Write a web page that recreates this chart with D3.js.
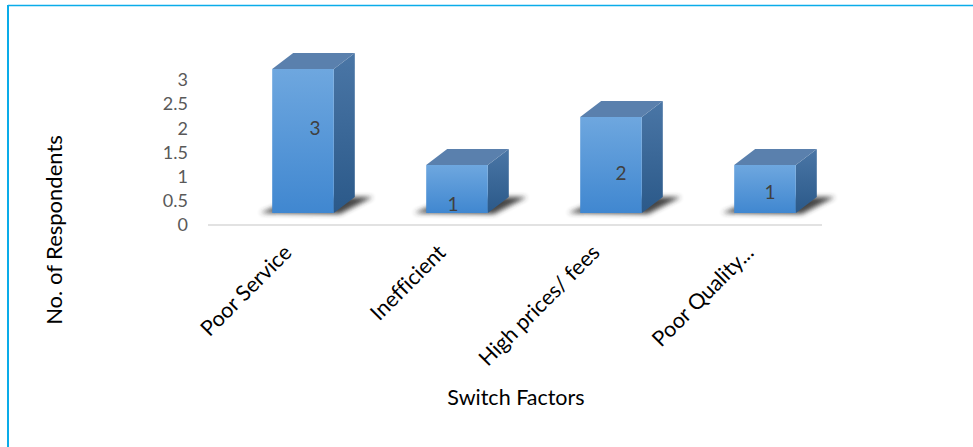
<!DOCTYPE html>
<html>
<head>
<meta charset="utf-8">
<script src="https://cdn.jsdelivr.net/npm/d3@7"></script>
<style>
  html, body { margin: 0; padding: 0; background: #fff; }
  svg { display: block; }
  text { font-family: Lato, "Liberation Sans", sans-serif; font-variant-ligatures: none; }
</style>
</head>
<body>
<svg id="chart" width="973" height="447"></svg>
<script>
// Switch factors reported by respondents
const categories = ["Poor Service", "Inefficient", "High prices/ fees", "Poor Quality..."];
const respondents = [3, 1, 2, 1];
const yTickValues = [0, 0.5, 1, 1.5, 2, 2.5, 3];
const xTitle = "Switch Factors";
const yTitle = "No. of Respondents";

// where each value label sits: height within the bar (in data units) and a sideways nudge
const labelHeight = [1.77, 0.17, 0.83, 0.42];
const labelNudge = [12, -4, 10, 5];

const W = 973, H = 447;
const svg = d3.select("#chart");
const defs = svg.append("defs");

// frame lines on the top and left edges
svg.append("line").attr("x1", 8).attr("x2", W).attr("y1", 5.5).attr("y2", 5.5)
  .attr("stroke", "#0aace9").attr("stroke-width", 1.6);
svg.append("line").attr("x1", 8).attr("x2", 8).attr("y1", 5).attr("y2", H)
  .attr("stroke", "#0aace9").attr("stroke-width", 2);

const x = d3.scaleBand().domain(categories).range([226, 842]);
const y = d3.scaleLinear().domain([0, 3]).range([213, 69]);      // front face of the bars
const yWall = d3.scaleLinear().domain([0, 3]).range([225, 80]);  // value axis on the wall

const faceW = x.bandwidth() * 0.4;
const depthX = 21, depthY = 16;

// gradients for the three visible faces
const gFront = defs.append("linearGradient").attr("id", "gFront")
  .attr("x1", 0).attr("y1", 0).attr("x2", 0).attr("y2", 1);
gFront.append("stop").attr("offset", "0%").attr("stop-color", "#6ea7df");
gFront.append("stop").attr("offset", "100%").attr("stop-color", "#4087d0");
const gSide = defs.append("linearGradient").attr("id", "gSide")
  .attr("x1", 0).attr("y1", 0).attr("x2", 0).attr("y2", 1);
gSide.append("stop").attr("offset", "0%").attr("stop-color", "#4a76a6");
gSide.append("stop").attr("offset", "100%").attr("stop-color", "#2b5989");

const blur = defs.append("filter").attr("id", "soft")
  .attr("x", "-30%").attr("y", "-100%").attr("width", "160%").attr("height", "300%");
blur.append("feGaussianBlur").attr("stdDeviation", 2.6);

// floor line
svg.append("line")
  .attr("x1", x.range()[0] - 18).attr("x2", x.range()[1] - 20)
  .attr("y1", yWall(0)).attr("y2", yWall(0))
  .attr("stroke", "#d9d9d9").attr("stroke-width", 1.5);

// value axis
const yAxis = d3.axisLeft(yWall).tickValues(yTickValues).tickSize(0).tickPadding(2)
  .tickFormat(d3.format("~g"));
const ya = svg.append("g").attr("transform", "translate(190,0)").call(yAxis);
ya.select(".domain").remove();
ya.selectAll("text").attr("font-size", 18).attr("fill", "#595959")
  .style("font-family", "Lato, 'Liberation Sans', sans-serif");

const data = categories.map((c, i) => ({ c, v: respondents[i], i }));
const bars = svg.append("g").selectAll("g").data(data).join("g");

const L = d => x(d.c) + (x.bandwidth() - faceW) / 2;
const R = d => L(d) + faceW;
const base = y(0);

// soft shadow under each bar
bars.append("path")
  .attr("d", d => `M${L(d) - 12},${base} L${R(d) + 6},${base + 1} L${R(d) + depthX + 18},${base - depthY} L${L(d) + depthX + 6},${base - depthY} Z`)
  .attr("fill", "#333").attr("opacity", 0.9).attr("filter", "url(#soft)");

// side face
bars.append("path")
  .attr("d", d => `M${R(d)},${y(d.v)} L${R(d) + depthX},${y(d.v) - depthY} L${R(d) + depthX},${base - depthY} L${R(d)},${base} Z`)
  .attr("fill", "url(#gSide)");

// top face
bars.append("path")
  .attr("d", d => `M${L(d)},${y(d.v)} L${L(d) + depthX},${y(d.v) - depthY} L${R(d) + depthX},${y(d.v) - depthY} L${R(d)},${y(d.v)} Z`)
  .attr("fill", "#5a80ad");

// front face
bars.append("rect")
  .attr("x", L).attr("y", d => y(d.v))
  .attr("width", faceW).attr("height", d => base - y(d.v))
  .attr("fill", "url(#gFront)");

// value labels
bars.append("text")
  .attr("x", d => L(d) + faceW / 2 + labelNudge[d.i])
  .attr("y", d => y(labelHeight[d.i]))
  .attr("dy", "0.35em")
  .attr("text-anchor", "middle")
  .attr("font-size", 19).attr("fill", "#404040")
  .text(d => d.v);

// category labels, slanted
svg.append("g").selectAll("text").data(categories).join("text")
  .attr("transform", c => `translate(${x(c) + x.bandwidth() / 2 - 10},254) rotate(-45)`)
  .attr("text-anchor", "end")
  .attr("font-size", 21.5).attr("fill", "#000")
  .text(c => c);

// axis titles
svg.append("text").attr("x", 516).attr("y", 405).attr("text-anchor", "middle")
  .attr("font-size", 21.5).attr("fill", "#000").text(xTitle);
svg.append("text").attr("transform", "translate(62,230) rotate(-90)")
  .attr("text-anchor", "middle").attr("font-size", 22).attr("fill", "#000").text(yTitle);
</script>
</body>
</html>
